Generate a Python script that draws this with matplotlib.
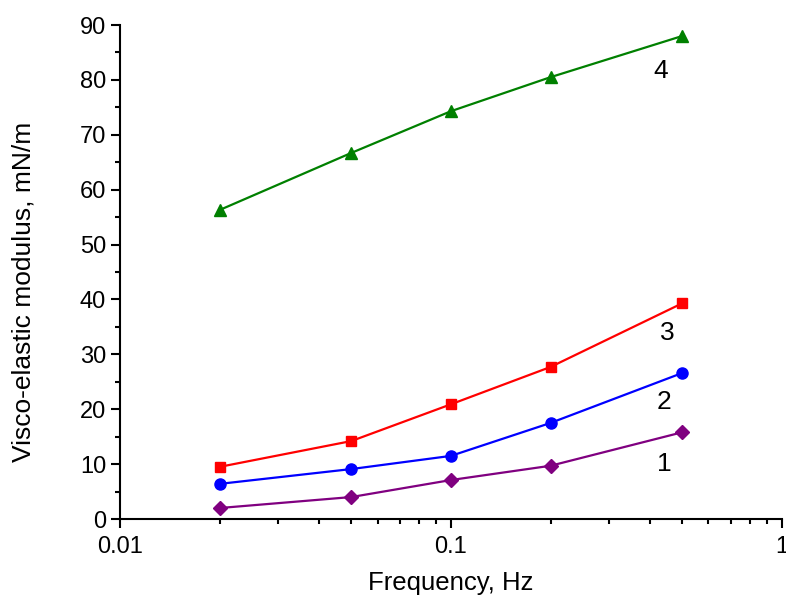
import matplotlib
matplotlib.use("Agg")
import matplotlib.pyplot as plt
from matplotlib.ticker import MultipleLocator, FixedLocator, NullFormatter, FixedFormatter

plt.rcParams['font.family'] = ['Liberation Sans', 'DejaVu Sans']

freq = [0.02, 0.05, 0.1, 0.2, 0.5]
s1 = [2.0, 4.0, 7.1, 9.7, 15.8]
s2 = [6.4, 9.1, 11.5, 17.5, 26.6]
s3 = [9.5, 14.2, 20.9, 27.7, 39.3]
s4 = [56.3, 66.7, 74.3, 80.5, 88.0]
labels = ["1", "2", "3", "4"]
label_pos = [(0.44, 10.0), (0.44, 21.3), (0.45, 33.9), (0.43, 81.7)]

fig = plt.figure(figsize=(7.86, 6.03), dpi=100)
ax = fig.add_axes([0.1527, 0.1393, 0.842, 0.8192])

ax.plot(freq, s1, color='#800080', marker='D', ms=7.5, lw=1.6)
ax.plot(freq, s2, color='#0000ff', marker='o', ms=8, lw=1.6)
ax.plot(freq, s3, color='#ff0000', marker='s', ms=7.2, lw=1.6)
ax.plot(freq, s4, color='#008000', marker='^', ms=8.5, lw=1.6)

for t, (x, y) in zip(labels, label_pos):
    ax.text(x, y, t, fontsize=19, ha='center', va='center')

ax.set_xscale('log')
ax.set_xlim(0.01, 1)
ax.set_ylim(0, 90)
ax.yaxis.set_major_locator(MultipleLocator(10))
ax.yaxis.set_minor_locator(MultipleLocator(5))
ax.xaxis.set_major_locator(FixedLocator([0.01, 0.1, 1]))
ax.xaxis.set_major_formatter(FixedFormatter(['0.01', '0.1', '1']))
ax.xaxis.set_minor_formatter(NullFormatter())

for s in ['top', 'right']:
    ax.spines[s].set_visible(False)
for s in ['left', 'bottom']:
    ax.spines[s].set_linewidth(1.5)

ax.tick_params(axis='both', which='major', direction='out', length=6.5, width=1.5, labelsize=17, pad=3.5)
ax.tick_params(axis='x', which='major', pad=6)
ax.tick_params(axis='both', which='minor', direction='out', length=3.6, width=1.5)

ax.set_xlabel('Frequency, Hz', fontsize=18.5, labelpad=9)
ax.set_ylabel('Visco-elastic modulus, mN/m', fontsize=19)
ax.yaxis.set_label_coords(-0.128, 0.4595)

fig.savefig('out.png', dpi=100)
